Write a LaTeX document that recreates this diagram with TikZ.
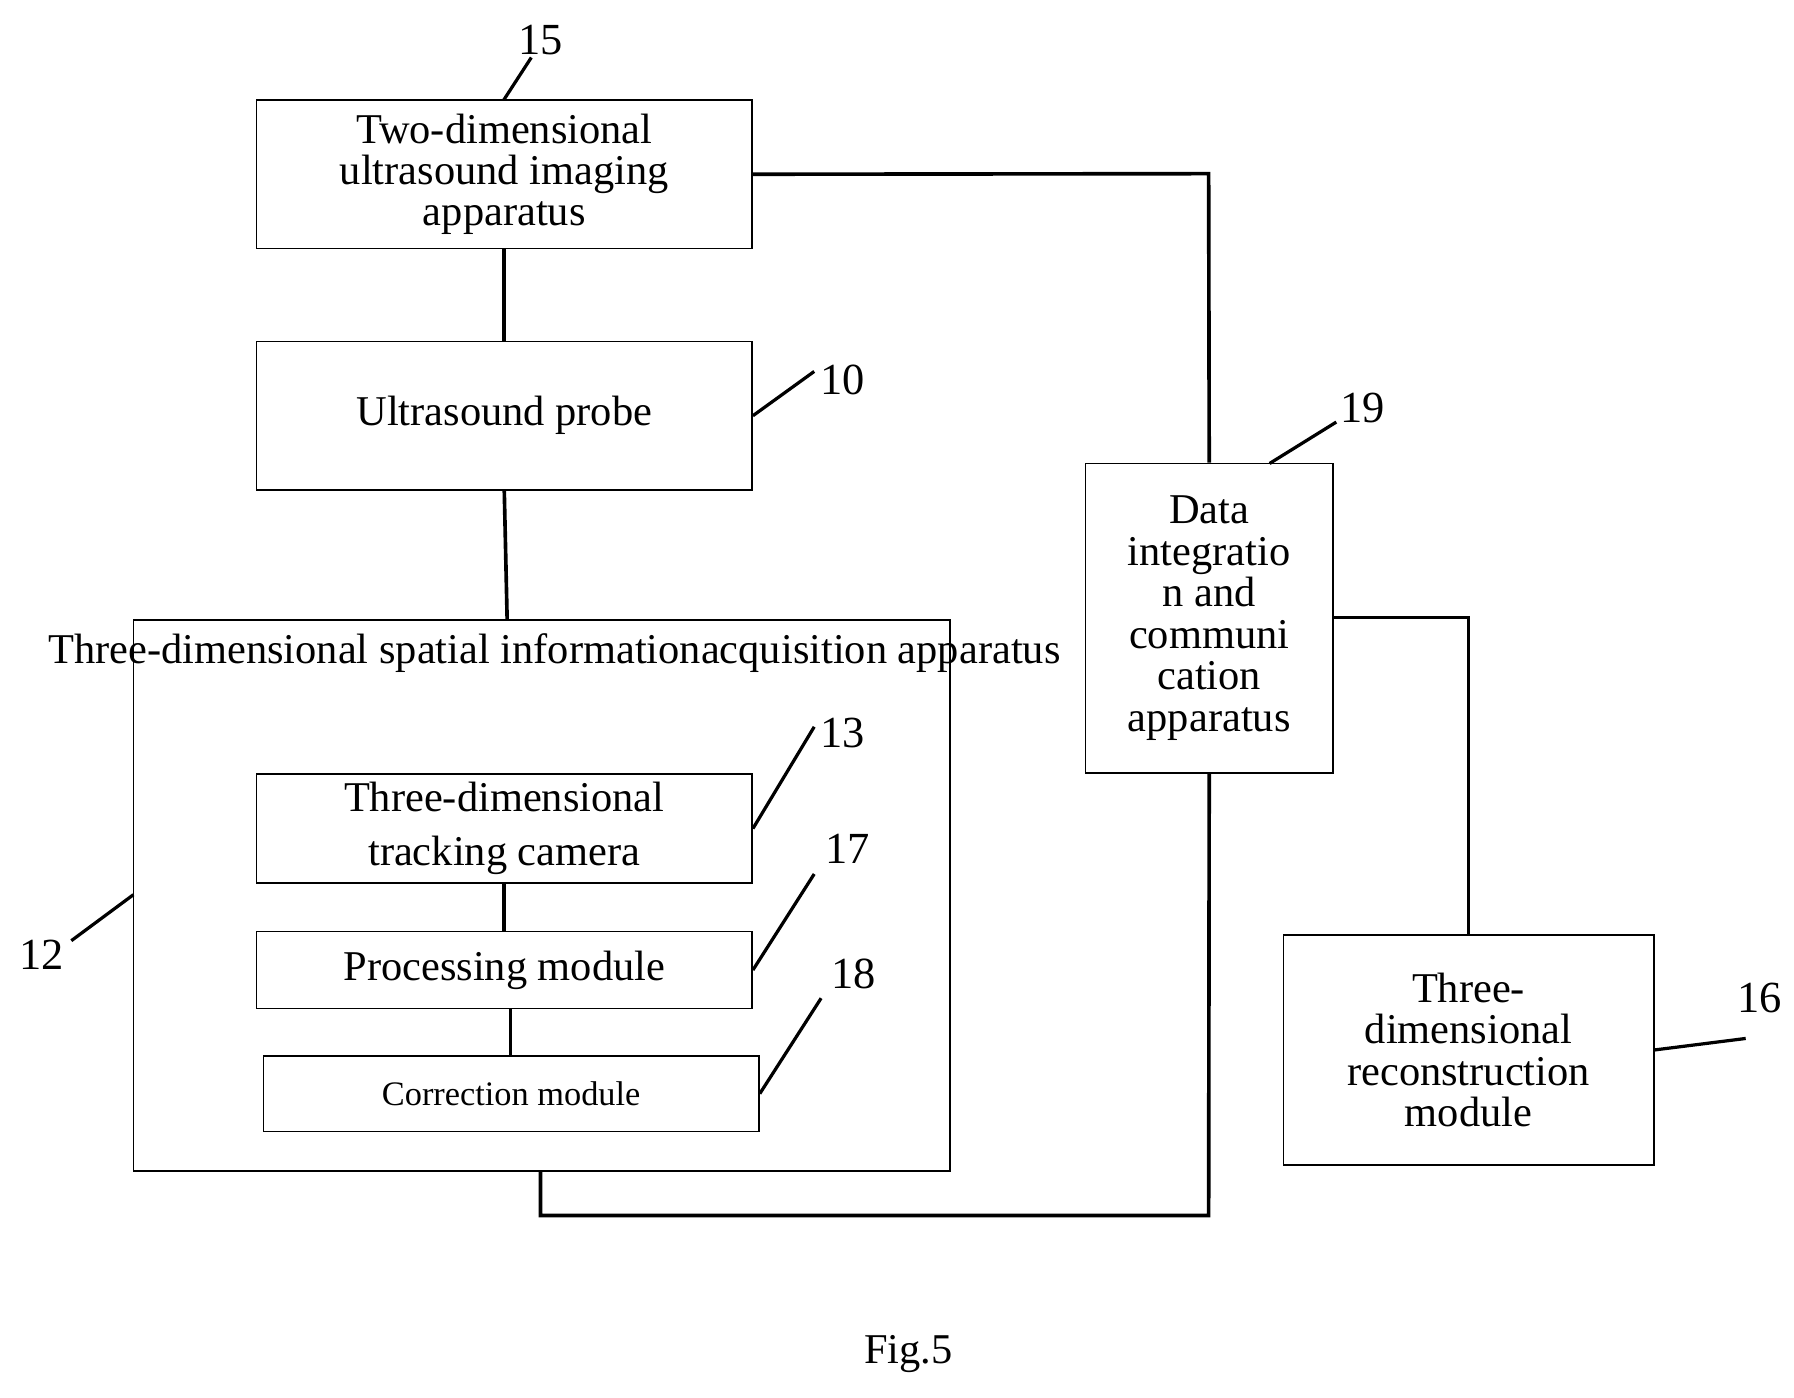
\documentclass[tikz,border=0pt]{standalone}
\usepackage{fontspec}
\setmainfont{Liberation Serif}
\usetikzlibrary{positioning}
\tikzset{
	x=0.02cm, y=-0.02cm,
	box/.style={draw, thick, inner sep=0pt, align=center},
	link/.style={line width=1.8pt},
	lead/.style={line width=1.6pt},
	num/.style={font=\fontsize{22}{24}\selectfont}
}
\begin{document}
\begin{tikzpicture}[font=\fontsize{21}{20.5}\selectfont]
	\useasboundingbox (0,0) rectangle (1560,1215);
	\node[box, minimum width=431*0.02cm, minimum height=129*0.02cm] (app) at (438.5,151.5) {Two-dimensional\\ultrasound imaging\\apparatus};
	\node[box, minimum width=431*0.02cm, minimum height=129*0.02cm] (probe) at (438.5,361.5) {Ultrasound probe};
	\node[box, minimum width=710*0.02cm, minimum height=479*0.02cm] (acq) at (471,778.5) {};
	\node[anchor=north] (acqt) at (482,545) {Three-dimensional spatial information\\[4pt]acquisition apparatus};
	\node[box, minimum width=431*0.02cm, minimum height=95*0.02cm] (cam) at (438.5,720.5) {Three-dimensional\\[6pt]tracking camera};
	\node[box, minimum width=431*0.02cm, minimum height=67*0.02cm] (proc) at (438.5,843.5) {Processing module};
	\node[box, minimum width=431*0.02cm, minimum height=66*0.02cm, font=\fontsize{17}{20}\selectfont] (corr) at (444.5,951) {Correction module};
	\node[box, minimum width=215*0.02cm, minimum height=269*0.02cm] (data) at (1051.5,537.5) {Data\\integratio\\n and\\communi\\cation\\apparatus};
	\node[box, minimum width=322*0.02cm, minimum height=200*0.02cm] (recon) at (1277,913) {Three-\\dimensional\\reconstruction\\module};
	\node at (790,1177) {Fig.5};

	% connections
	\coordinate (acqin) at (441,539);
	\coordinate (acqout) at (470,1018);
	\draw[link] (app) -- (probe);
	\draw[link] (probe.south) -- (acqin);
	\draw[link] (cam) -- (proc);
	\draw[link] (444,877) -- (444,918);
	\draw[link] (app.east) -- (1051,151) -- (data.north);
	\draw[link] (data.south) -- (1051,1057) -- (470,1057) -- (acqout);
	\draw[link] (1159,537) -- (1277,537) -- (recon.north);

	% reference numerals
	\coordinate (e15) at (462,50);  \node[num] at (470,35) {15};
	\coordinate (e10) at (708,323); \node[num] at (733,330) {10};
	\coordinate (e19) at (1162,367);\node[num] at (1185,355) {19};
	\coordinate (e13) at (708,632); \node[num] at (733,637) {13};
	\coordinate (e17) at (708,760); \node[num] at (737,738) {17};
	\coordinate (e18) at (714,868); \node[num] at (742,847) {18};
	\coordinate (e12) at (62,818);  \node[num] at (36,830) {12};
	\coordinate (e16) at (1518,903);\node[num] at (1530,868) {16};
	\draw[lead] (438,87) -- (e15);
	\draw[lead] (probe.east) -- (e10);
	\draw[lead] (1104,403) -- (e19);
	\draw[lead] (cam.east) -- (e13);
	\draw[lead] (proc.east) -- (e17);
	\draw[lead] (corr.east) -- (e18);
	\draw[lead] (116,778) -- (e12);
	\draw[lead] (recon.east) -- (e16);
\end{tikzpicture}
\end{document}
